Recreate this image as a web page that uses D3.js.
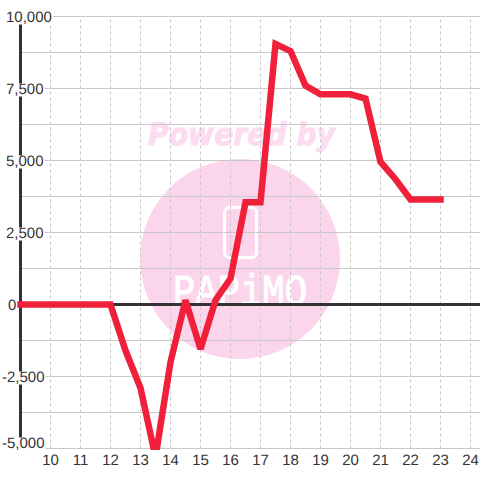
<!DOCTYPE html>
<html>
<head>
<meta charset="utf-8">
<script src="https://cdn.jsdelivr.net/npm/d3@7"></script>
<style>
html, body { margin: 0; padding: 0; background: #fff; }
text { font-family: "Liberation Sans", Arial, sans-serif; text-rendering: geometricPrecision; }
</style>
</head>
<body>
<div id="chart"></div>
<script>
const hours = [9, 9.5, 10, 10.5, 11, 11.5, 12, 12.5, 13, 13.5, 14, 14.5, 15, 15.5, 16, 16.5, 17, 17.5, 18, 18.5, 19, 19.5, 20, 20.5, 21, 21.5, 22, 22.5, 23];
const values = [0, 0, 0, 0, 0, 0, 0, -1600, -2900, -5300, -2000, 150, -1550, 150, 900, 3550, 3550, 9050, 8800, 7600, 7300, 7300, 7300, 7150, 4950, 4350, 3650, 3650, 3650];
const xTicks = [10, 11, 12, 13, 14, 15, 16, 17, 18, 19, 20, 21, 22, 23, 24];
const yLabels = [10000, 7500, 5000, 2500, 0, -2500, -5000];
const yGrid = [10000, 8750, 7500, 6250, 5000, 3750, 2500, 1250, -1250, -2500, -3750, -5000];

const width = 480, height = 480;
const x = d3.scaleLinear().domain([9, 24]).range([20.5, 470.5]);
const y = d3.scaleLinear().domain([-5000, 10000]).range([448.5, 16.5]);

const svg = d3.select("#chart").append("svg")
    .attr("width", width)
    .attr("height", height)
    .style("display", "block");

// watermark sits under the grid
const mark = svg.append("g");
mark.append("circle").attr("cx", 240).attr("cy", 259).attr("r", 100).attr("fill", "#fbd5ec");
mark.append("rect")
    .attr("x", 224.5).attr("y", 207.5).attr("width", 32).attr("height", 50).attr("rx", 5)
    .attr("fill", "none").attr("stroke", "#fff").attr("stroke-width", 3);
mark.append("text")
    .attr("x", 173).attr("y", 305)
    .attr("textLength", 134).attr("lengthAdjust", "spacingAndGlyphs")
    .style("font-family", "'Liberation Mono', monospace")
    .style("font-size", "44px")
    .attr("fill", "#fff")
    .attr("stroke", "#fff")
    .attr("stroke-width", 1)
    .text("PAPiMO");
mark.append("text")
    .attr("x", 148).attr("y", 145)
    .attr("textLength", 187).attr("lengthAdjust", "spacingAndGlyphs")
    .style("font-family", "'DejaVu Sans', sans-serif")
    .style("font-size", "31px")
    .style("font-weight", "bold")
    .style("font-style", "italic")
    .attr("fill", "#fcdcf0")
    .attr("stroke", "#fcdcf0")
    .attr("stroke-width", 1)
    .text("Powered by");

// vertical dashed grid + hour labels
const xAxis = svg.append("g")
    .attr("transform", "translate(0,448.5)")
    .call(d3.axisBottom(x).tickValues(xTicks).tickSize(-432).tickPadding(6).offset(0).tickFormat(d3.format("d")));
xAxis.select(".domain").remove();
xAxis.selectAll("line").attr("stroke", "#c8c8c8").attr("stroke-dasharray", "3,3");
xAxis.selectAll("text").attr("fill", "#333").style("font-size", "15px").style("font-family", "'Liberation Sans', Arial, sans-serif");

// horizontal grid
const yAxis = svg.append("g")
    .attr("transform", "translate(20.5,0)")
    .call(d3.axisRight(y).tickValues(yGrid).tickSize(460).offset(0).tickFormat(""));
yAxis.select(".domain").remove();
yAxis.selectAll("line").attr("stroke", "#c8c8c8");

// y axis line and zero line
svg.append("line")
    .attr("x1", x(9)).attr("x2", x(9))
    .attr("y1", y(10000)).attr("y2", y(-5000))
    .attr("stroke", "#333").attr("stroke-width", 3);
svg.append("line")
    .attr("x1", x(9)).attr("x2", width)
    .attr("y1", y(0)).attr("y2", y(0))
    .attr("stroke", "#333").attr("stroke-width", 3);

// labels knock out the axis behind them, plain hyphen for negatives
const labelFormat = function(d) { return d3.format(",")(d).replace("\u2212", "-"); };
const labels = svg.append("g").selectAll("g").data(yLabels).enter().append("g")
    .attr("transform", function(d) {
        // the bottom label is pushed up to stay inside the plot
        return "translate(" + (d < 0 ? 2 : d === 0 ? 8 : 6) + "," + (d === -5000 ? y(d) - 6 : y(d)) + ")";
    });
const labelText = labels.append("text")
    .attr("y", 5.5)
    .attr("fill", "#333")
    .style("font-size", "15px")
    .text(function(d) { return labelFormat(d); });
labels.insert("rect", "text")
    .attr("x", -2)
    .attr("y", -5)
    .attr("height", 13)
    .attr("width", function(d, i) { return d === 0 ? 0 : labelText.nodes()[i].getComputedTextLength() + 3; })
    .attr("fill", "#fff");

// main series, cut at the plot bottom
svg.append("clipPath").attr("id", "plot")
    .append("rect").attr("x", 0).attr("y", 0).attr("width", width).attr("height", 450);
const line = d3.line()
    .x(function(d) { return x(d); })
    .y(function(d, i) { return y(values[i]); });
svg.append("path")
    .attr("d", line(hours))
    .attr("clip-path", "url(#plot)")
    .attr("fill", "none")
    .attr("stroke", "#f01f3a")
    .attr("stroke-width", 6.5)
    .attr("stroke-linecap", "square")
    .attr("stroke-linejoin", "miter")
    .attr("stroke-miterlimit", 2);
</script>
</body>
</html>
